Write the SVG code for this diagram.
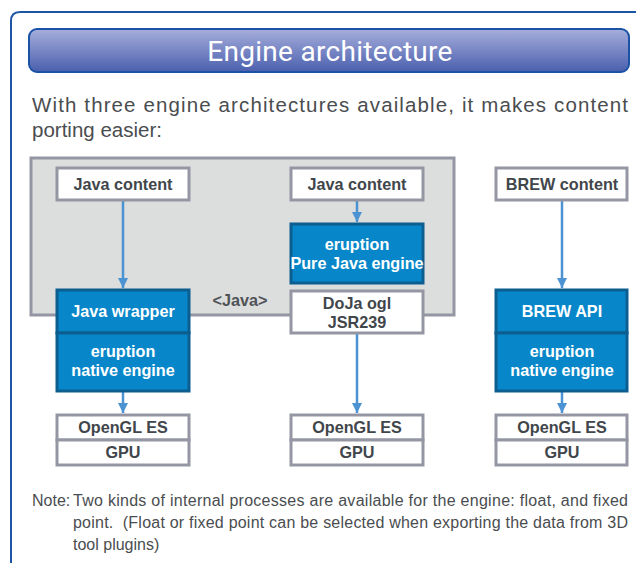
<svg xmlns="http://www.w3.org/2000/svg" width="636" height="563" viewBox="0 0 636 563">
<defs>
<linearGradient id="tg" x1="0" y1="0" x2="0" y2="1">
<stop offset="0" stop-color="#a6aedb"/>
<stop offset="1" stop-color="#4a5fae"/>
</linearGradient>
<marker id="ah" viewBox="0 0 10 10" refX="10" refY="5" markerWidth="10" markerHeight="10" markerUnits="userSpaceOnUse" orient="auto">
<path d="M0,0 L10,5 L0,10 z" fill="#4b93d3"/>
</marker>
<style>
.wb{fill:#ffffff;stroke:#9497a3;stroke-width:3}
.bb{fill:#0787c9;stroke:#0b5e8f;stroke-width:3}
.lbl{font-family:"Liberation Sans",Arial,sans-serif;font-weight:bold;font-size:16.2px;text-anchor:middle}
.dk{fill:#41464b}
.wt{fill:#ffffff}
.ar{stroke:#4b93d3;stroke-width:2.5;fill:none;marker-end:url(#ah)}
.body{font-family:"Liberation Sans",Arial,sans-serif;fill:#4a4d50}
</style>
</defs>
<rect width="636" height="563" fill="#ffffff"/>
<path d="M640,12 L20,12 Q11,12 11,21 L11,570" fill="none" stroke="#1c55a6" stroke-width="2"/>
<g id="title">
<rect x="29" y="29" width="600" height="43" rx="8" fill="url(#tg)" stroke="#1a52a6" stroke-width="2"/>
<text x="330" y="61" font-family="Roboto,'Noto Sans',sans-serif" font-size="28" fill="#ffffff" text-anchor="middle" letter-spacing="0.3">Engine architecture</text>
</g>
<text class="body" x="32" y="112" font-size="20.5" textLength="596" lengthAdjust="spacing">With three engine architectures available, it makes content</text>
<text class="body" x="32" y="137" font-size="20.5">porting easier:</text>
<g id="java-area">
<rect x="31" y="158" width="423" height="157" fill="#dcdddd" stroke="#9497a3" stroke-width="3"/>
<text class="lbl" x="240" y="306" font-size="15" fill="#4f5357">&lt;Java&gt;</text>
</g>
<g id="connectors">
<line class="ar" x1="123" y1="200" x2="123" y2="288"/>
<line class="ar" x1="357" y1="200" x2="357" y2="222"/>
<line class="ar" x1="562" y1="200" x2="562" y2="288"/>
<line class="ar" x1="123" y1="391" x2="123" y2="413"/>
<line class="ar" x1="357" y1="333" x2="357" y2="413"/>
<line class="ar" x1="562" y1="391" x2="562" y2="413"/>
</g>
<g id="java-content-1">
<rect class="wb" x="57" y="168" width="132" height="32"/>
<text class="lbl dk" x="123" y="190">Java content</text>
</g>
<g id="java-content-2">
<rect class="wb" x="291" y="168" width="132" height="32"/>
<text class="lbl dk" x="357" y="190">Java content</text>
</g>
<g id="brew-content">
<rect class="wb" x="496" y="168" width="131" height="32"/>
<text class="lbl dk" x="562" y="190">BREW content</text>
</g>
<g id="java-wrapper">
<rect class="bb" x="57" y="290" width="132" height="43"/>
<text class="lbl wt" x="123" y="317">Java wrapper</text>
</g>
<g id="native-engine-1">
<rect class="bb" x="57" y="333" width="132" height="58"/>
<text class="lbl wt" x="123" y="357">eruption</text>
<text class="lbl wt" x="123" y="376">native engine</text>
</g>
<g id="pure-java-engine">
<rect class="bb" x="291" y="224" width="132" height="59"/>
<text class="lbl wt" x="357" y="250">eruption</text>
<text class="lbl wt" x="357" y="269" font-size="15.8">Pure Java engine</text>
</g>
<g id="doja">
<rect class="wb" x="291" y="291" width="132" height="42"/>
<text class="lbl dk" x="357" y="309">DoJa ogl</text>
<text class="lbl dk" x="357" y="328">JSR239</text>
</g>
<g id="brew-api">
<rect class="bb" x="496" y="290" width="131" height="43"/>
<text class="lbl wt" x="562" y="317">BREW API</text>
</g>
<g id="native-engine-2">
<rect class="bb" x="496" y="333" width="131" height="58"/>
<text class="lbl wt" x="562" y="357">eruption</text>
<text class="lbl wt" x="562" y="376">native engine</text>
</g>
<g id="gl-1">
<rect class="wb" x="57" y="415" width="132" height="25"/>
<text class="lbl dk" x="123" y="433">OpenGL ES</text>
</g>
<g id="gpu-1">
<rect class="wb" x="57" y="440" width="132" height="25"/>
<text class="lbl dk" x="123" y="458">GPU</text>
</g>
<g id="gl-2">
<rect class="wb" x="291" y="415" width="132" height="25"/>
<text class="lbl dk" x="357" y="433">OpenGL ES</text>
</g>
<g id="gpu-2">
<rect class="wb" x="291" y="440" width="132" height="25"/>
<text class="lbl dk" x="357" y="458">GPU</text>
</g>
<g id="gl-3">
<rect class="wb" x="496" y="415" width="131" height="25"/>
<text class="lbl dk" x="562" y="433">OpenGL ES</text>
</g>
<g id="gpu-3">
<rect class="wb" x="496" y="440" width="131" height="25"/>
<text class="lbl dk" x="562" y="458">GPU</text>
</g>
<g id="note" class="body" font-size="16">
<text x="32" y="506">Note:</text>
<text x="73" y="506" textLength="555" lengthAdjust="spacing">Two kinds of internal processes are available for the engine: float, and fixed</text>
<text x="73" y="528" textLength="555" lengthAdjust="spacing" xml:space="preserve">point.  (Float or fixed point can be selected when exporting the data from 3D</text>
<text x="73" y="550">tool plugins)</text>
</g>
</svg>
